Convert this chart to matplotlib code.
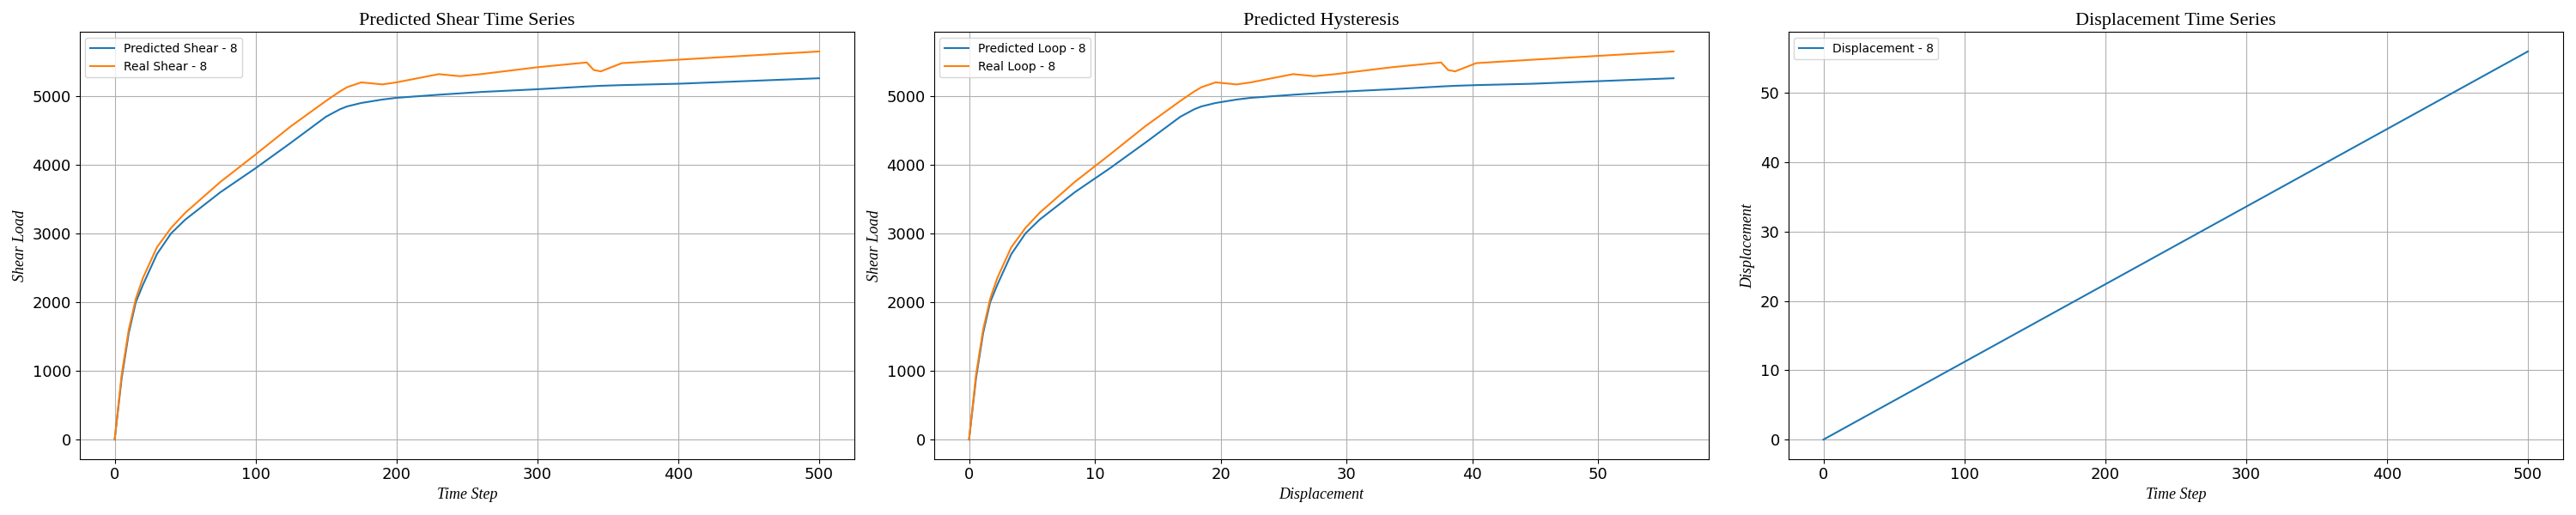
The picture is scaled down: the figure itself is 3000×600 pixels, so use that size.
import matplotlib
matplotlib.use("Agg")
import matplotlib.pyplot as plt

time_step = [0, 5, 10, 15, 20, 30, 40, 50, 75, 100, 125, 150, 160, 165, 175, 190, 200,
             230, 245, 260, 300, 335, 340, 345, 360, 400, 450, 500]
displacement = [0, 0.56, 1.12, 1.68, 2.24, 3.36, 4.48, 5.6, 8.4, 11.2, 14, 16.8, 17.92,
                18.48, 19.6, 21.28, 22.4, 25.76, 27.44, 29.12, 33.6, 37.52, 38.08,
                38.64, 40.32, 44.8, 50.4, 56]
predicted_shear = [0, 900, 1550, 2000, 2250, 2700, 3000, 3200, 3600, 3950, 4320, 4700,
                   4810, 4850, 4900, 4950, 4975, 5020, 5040, 5060, 5100, 5140, 5145,
                   5150, 5160, 5180, 5220, 5260]
real_shear = [0, 950, 1600, 2050, 2350, 2800, 3080, 3300, 3750, 4150, 4560, 4930, 5070,
              5130, 5200, 5170, 5200, 5320, 5290, 5320, 5420, 5490, 5380, 5360, 5480,
              5530, 5590, 5650]

title_font = dict(family="Liberation Serif", fontsize=16)
label_font = dict(family="Liberation Serif", style="italic", fontsize=13)

fig, axes = plt.subplots(1, 3, figsize=(30, 6), dpi=100)

ax = axes[0]
ax.plot(time_step, predicted_shear, label="Predicted Shear - 8")
ax.plot(time_step, real_shear, label="Real Shear - 8")
ax.set_title("Predicted Shear Time Series", **title_font)
ax.set_xlabel("Time Step", **label_font)
ax.set_ylabel("Shear Load", **label_font)

ax = axes[1]
ax.plot(displacement, predicted_shear, label="Predicted Loop - 8")
ax.plot(displacement, real_shear, label="Real Loop - 8")
ax.set_title("Predicted Hysteresis", **title_font)
ax.set_xlabel("Displacement", **label_font)
ax.set_ylabel("Shear Load", **label_font)

ax = axes[2]
ax.plot(time_step, displacement, label="Displacement - 8")
ax.set_title("Displacement Time Series", **title_font)
ax.set_xlabel("Time Step", **label_font)
ax.set_ylabel("Displacement", **label_font)

for ax in axes:
    ax.grid(True)
    ax.legend(loc="upper left", fontsize=10)
    ax.tick_params(labelsize=13)

plt.tight_layout()
plt.savefig("out.png", dpi=100)
